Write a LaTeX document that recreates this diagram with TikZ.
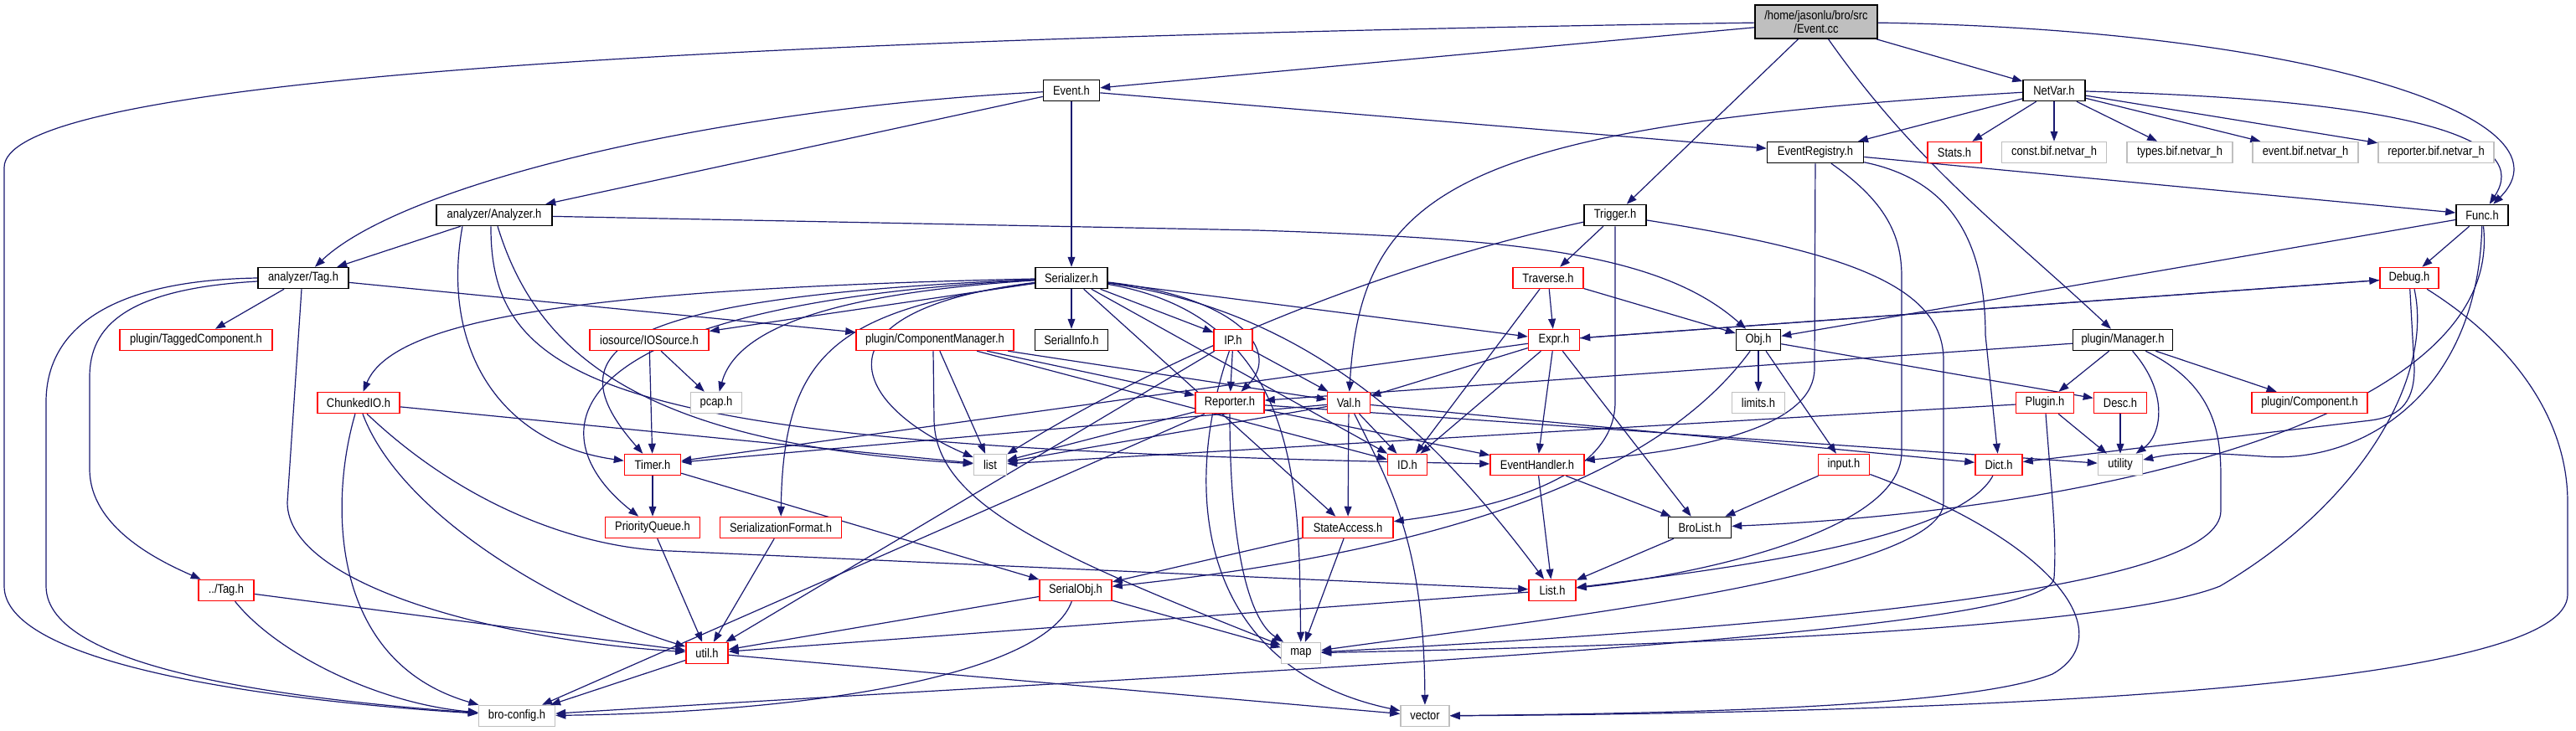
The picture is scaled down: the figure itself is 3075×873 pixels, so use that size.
\documentclass[tikz,border=0pt]{standalone}
\usepackage{fontspec}
\usetikzlibrary{arrows.meta}
\newfontfamily\lbl{Liberation Sans}[FakeStretch=0.86]
\definecolor{edgec}{HTML}{191970}
\definecolor{grayb}{HTML}{BFBFBF}
\definecolor{redb}{HTML}{FF0000}
\pgfdeclarelayer{background}
\pgfsetlayers{background,main}
\begin{document}
\begin{tikzpicture}[x=0.5pt,y=-0.5pt,
  box/.style={rectangle, draw, line width=0.75pt, minimum height=12.5pt, inner sep=0pt, fill=white,
    font=\lbl\fontsize{7.5}{9}\selectfont},
  nb/.style={box, draw=black},
  nr/.style={box, draw=redb},
  ng/.style={box, draw=grayb},
  edg/.style={draw=edgec, line width=0.6pt, -{Triangle[length=6pt,width=4.4pt]}, fill=none}]
\path[use as bounding box] (0,0) rectangle (3075,873);
% ---------- nodes ----------
\node[nb, fill=grayb, minimum width=73pt, minimum height=20pt, align=center,
  font=\lbl\fontsize{7.5}{7.8}\selectfont] (cc) at (2168,26) {/home/jasonlu/bro/src\\/Event.cc};
\node[nb, minimum width=33.5pt] (eventh) at (1279,108) {Event.h};
\node[nb, minimum width=37pt] (netvar) at (2452,108) {NetVar.h};
\node[nb, minimum width=57.5pt] (er) at (2167,182) {EventRegistry.h};
\node[nr, minimum width=32pt] (stats) at (2333,182) {Stats.h};
\node[ng, minimum width=62.5pt] (constbif) at (2452,182) {const.bif.netvar\_h};
\node[ng, minimum width=63pt] (typesbif) at (2602,182) {types.bif.netvar\_h};
\node[ng, minimum width=63pt] (eventbif) at (2752,182) {event.bif.netvar\_h};
\node[ng, minimum width=69pt] (repbif) at (2908,182) {reporter.bif.netvar\_h};
\node[nb, minimum width=69pt] (analyzer) at (590,257) {analyzer/Analyzer.h};
\node[nb, minimum width=37pt] (trigger) at (1928,257) {Trigger.h};
\node[nb, minimum width=31pt] (func) at (2963,257) {Func.h};
\node[nb, minimum width=54pt] (tag) at (362,332) {analyzer/Tag.h};
\node[nb, minimum width=43pt] (ser) at (1279,332) {Serializer.h};
\node[nr, minimum width=42pt] (traverse) at (1848,332) {Traverse.h};
\node[nr, minimum width=35pt] (debug) at (2876,332) {Debug.h};
\node[nr, minimum width=91pt] (tagcomp) at (234,406) {plugin/TaggedComponent.h};
\node[nr, minimum width=71pt] (iosrc) at (775,406) {iosource/IOSource.h};
\node[nr, minimum width=94pt] (compmgr) at (1116,406) {plugin/ComponentManager.h};
\node[nb, minimum width=43.5pt] (serinfo) at (1279,406) {SerialInfo.h};
\node[nr, minimum width=23pt] (ip) at (1472,406) {IP.h};
\node[nr, minimum width=30.5pt] (expr) at (1855,406) {Expr.h};
\node[nb, minimum width=26.5pt] (obj) at (2099,406) {Obj.h};
\node[nb, minimum width=59.5pt] (pmgr) at (2534,406) {plugin/Manager.h};
\node[nr, minimum width=49pt] (cio) at (428,481) {ChunkedIO.h};
\node[ng, minimum width=30.5pt] (pcap) at (855,481) {pcap.h};
\node[nr, minimum width=41pt] (rep) at (1468,481) {Reporter.h};
\node[nr, minimum width=25.5pt] (val) at (1610,481) {Val.h};
\node[ng, minimum width=31.5pt] (limits) at (2099,481) {limits.h};
\node[nr, minimum width=34.5pt] (plugin) at (2441,481) {Plugin.h};
\node[nr, minimum width=31.5pt] (desc) at (2531,481) {Desc.h};
\node[nr, minimum width=69pt] (pcomp) at (2757,481) {plugin/Component.h};
\node[nr, minimum width=33.5pt] (timer) at (779,555) {Timer.h};
\node[ng, minimum width=19.5pt] (list) at (1182,555) {list};
\node[nr, minimum width=23.5pt] (id) at (1680,555) {ID.h};
\node[nr, minimum width=56pt] (eh) at (1835,555) {EventHandler.h};
\node[nr, minimum width=30.5pt] (input) at (2201,555) {input.h};
\node[nr, minimum width=28pt] (dict) at (2386,555) {Dict.h};
\node[ng, minimum width=26.5pt] (utility) at (2531,555) {utility};
\node[nr, minimum width=56.5pt] (pq) at (779,630) {PriorityQueue.h};
\node[nr, minimum width=72.5pt] (sf) at (932,630) {SerializationFormat.h};
\node[nr, minimum width=54pt] (sa) at (1609,630) {StateAccess.h};
\node[nb, minimum width=37.5pt] (brolist) at (2029,630) {BroList.h};
\node[nr, minimum width=33pt] (subtag) at (270,705) {../Tag.h};
\node[nr, minimum width=43pt] (sobj) at (1284,705) {SerialObj.h};
\node[nr, minimum width=28pt] (listh) at (1853,705) {List.h};
\node[nr, minimum width=25pt] (util) at (844,780) {util.h};
\node[ng, minimum width=23.5pt] (map) at (1553,780) {map};
\node[ng, minimum width=45.5pt] (broconfig) at (617,855) {bro-config.h};
\node[ng, minimum width=29pt] (vector) at (1701,855) {vector};
% ---------- edges ----------
\begin{pgfonlayer}{background}
% Event.cc
\draw[edg] (cc) -- (eventh);
\draw[edg] (cc) -- (netvar);
\draw[edg] (cc) -- (trigger);
\draw[edg] (cc) .. controls (2290,200) and (2400,280) .. (pmgr);
\draw[edg] (cc) .. controls (2750,35) and (3080,140) .. (func);
\draw[edg] (cc) .. controls (600,50) and (5,110) .. (5,200) -- (5,700) .. controls (5,790) and (300,835) .. (broconfig);
% Event.h
\draw[edg] (eventh) -- (ser);
\draw[edg] (eventh) .. controls (850,130) and (480,220) .. (tag);
\draw[edg] (eventh) -- (analyzer);
\draw[edg] (eventh) -- (er);
% NetVar.h
\foreach \t in {stats,constbif,typesbif,eventbif,repbif} \draw[edg] (netvar) -- (\t);
\draw[edg] (netvar) .. controls (2900,120) and (3020,170) .. (func);
\draw[edg] (netvar) -- (er);
\draw[edg] (netvar) .. controls (1750,150) and (1625,220) .. (val);
% EventRegistry.h
\draw[edg] (er) -- (func);
\draw[edg] (er) -- (2166,440) .. controls (2166,505) and (2050,535) .. (eh);
\draw[edg] (er) .. controls (2330,215) and (2370,290) .. (2370,400) -- (dict);
\draw[edg] (er) .. controls (2250,240) and (2270,280) .. (2270,330) -- (2270,540) .. controls (2270,640) and (2000,690) .. (listh);
% analyzer/Analyzer.h
\draw[edg] (analyzer) -- (tag);
\draw[edg] (analyzer) -- (1500,275) .. controls (1800,285) and (1980,300) .. (obj);
\draw[edg] ([xshift=-19pt]analyzer.south) .. controls (525,420) and (600,530) .. (timer);
\draw[edg] ([xshift=2pt]analyzer.south) .. controls (640,420) and (760,530) .. (list);
\draw[edg] ([xshift=-2pt]analyzer.south) .. controls (585,470) and (750,535) .. (eh);
% analyzer/Tag.h
\draw[edg] (tag) -- (tagcomp);
\draw[edg] (tag) -- (compmgr);
\draw[edg] ([yshift=-2pt]tag.west) .. controls (150,345) and (107,390) .. (107,450) -- (107,560) .. controls (107,630) and (190,670) .. (subtag);
\draw[edg] (tag.west) .. controls (120,335) and (55,400) .. (55,480) -- (55,700) .. controls (55,800) and (350,835) .. (broconfig);
\draw[edg] ([xshift=-1pt]tag.south) -- (343,600) .. controls (343,700) and (600,765) .. (util);
% ../Tag.h
\draw[edg] (subtag) .. controls (330,780) and (450,840) .. (broconfig);
\draw[edg] (subtag) -- (util);
% ChunkedIO.h
\draw[edg] ([xshift=-2pt]cio.south) .. controls (393,600) and (393,790) .. (broconfig);
\draw[edg] (cio) .. controls (480,620) and (680,730) .. (util);
\draw[edg] ([xshift=5pt]cio.south) .. controls (560,610) and (700,655) .. (800,658) -- (listh);
\draw[edg] (cio) -- (list);
% Serializer.h
\draw[edg] (ser) -- (serinfo);
\draw[edg] (ser) -- (ip);
\draw[edg] (ser) -- (iosrc);
\draw[edg] (ser) .. controls (1000,350) and (880,390) .. (pcap);
\draw[edg] (ser) .. controls (700,345) and (470,380) .. (cio);
\draw[edg] (ser) .. controls (720,355) and (660,420) .. (timer);
\draw[edg] (ser) .. controls (650,365) and (640,520) .. (pq);
\draw[edg] (ser) .. controls (1000,370) and (935,420) .. (sf);
\draw[edg] (ser) .. controls (970,370) and (1010,480) .. (list);
\draw[edg] (ser) -- (expr);
\draw[edg] (ser) .. controls (1480,355) and (1530,420) .. (rep);
\draw[edg] (ser) .. controls (1560,380) and (1550,600) .. (map);
\draw[edg] (ser) -- (id);
\draw[edg] (ser) .. controls (1550,370) and (1700,500) .. (listh);
\draw[edg] (ser) -- (sa);
% iosource/IOSource.h
\draw[edg] (iosrc) -- (pcap);
\draw[edg] (iosrc) -- (timer);
% plugin/ComponentManager.h
\draw[edg] (compmgr) -- (list);
\draw[edg] ([xshift=-1pt]compmgr.south) -- (1115,500) .. controls (1115,600) and (1250,660) .. (map);
\draw[edg] (compmgr) -- (rep);
\draw[edg] (compmgr) -- (val);
\draw[edg] (compmgr) -- (id);
% IP.h
\draw[edg] (ip) -- (rep);
\draw[edg] (ip) -- (val);
\draw[edg] (ip) -- (util);
\draw[edg] (ip) .. controls (1405,600) and (1440,800) .. (vector);
% Reporter.h
\draw[edg] (rep) -- (list);
\draw[edg] (rep) .. controls (1468,650) and (1490,740) .. (map);
\draw[edg] (rep) -- (broconfig);
\draw[edg] (rep) -- (eh);
\draw[edg] (rep) -- (utility);
% Val.h
\draw[edg] (val) .. controls (1660,580) and (1700,650) .. (vector);
\draw[edg] (val) -- (id);
\draw[edg] (val) -- (sa);
\draw[edg] (val) -- (list);
\draw[edg] (val) -- (timer);
\draw[edg] (val) -- (dict);
% Expr.h
\draw[edg] (expr) -- (debug);
\draw[edg] (debug) -- (expr);
\draw[edg] (expr) -- (val);
\draw[edg] (expr) -- (id);
\draw[edg] (expr) -- (eh);
\draw[edg] (expr) -- (brolist);
\draw[edg] (expr) -- (timer);
% Traverse.h
\draw[edg] (traverse) -- (expr);
\draw[edg] (traverse) -- (obj);
\draw[edg] (traverse) -- (id);
% Trigger.h
\draw[edg] (trigger) -- (traverse);
\draw[edg] (trigger) .. controls (1660,315) and (1400,420) .. (list);
\draw[edg] (trigger) -- (1928,480) .. controls (1928,580) and (1760,610) .. (sa);
\draw[edg] (trigger) .. controls (2200,300) and (2320,340) .. (2320,430) -- (2320,600) .. controls (2320,690) and (1800,745) .. (map);
% Func.h
\draw[edg] (func) -- (debug);
\draw[edg] (func) -- (obj);
\draw[edg] (func) .. controls (2958,470) and (2820,555) .. (2700,545) .. controls (2630,540) and (2600,540) .. (utility);
\draw[edg] (func) .. controls (2990,500) and (2500,610) .. (brolist);
% Debug.h
\draw[edg] (debug) -- (2882,440) .. controls (2882,485) and (2860,498) .. (2830,502) -- (dict);
\draw[edg] ([xshift=3pt]debug.south) .. controls (2905,450) and (2820,600) .. (2650,700) .. controls (2500,760) and (1800,775) .. (map);
\draw[edg] (debug) .. controls (3000,410) and (3065,500) .. (3065,600) -- (3065,710) .. controls (3065,810) and (2500,850) .. (vector);
% Obj.h
\draw[edg] (obj) -- (limits);
\draw[edg] (obj) -- (input);
\draw[edg] (obj) -- (desc);
\draw[edg] (obj) .. controls (2000,540) and (1800,650) .. (sobj);
% plugin/Manager.h
\draw[edg] (pmgr) -- (plugin);
\draw[edg] (pmgr) -- (pcomp);
\draw[edg] (pmgr) .. controls (2590,470) and (2580,520) .. (utility);
\draw[edg] (pmgr) .. controls (2645,460) and (2651,520) .. (2651,570) -- (2651,610) .. controls (2651,700) and (2200,745) .. (map);
\draw[edg] (pmgr) -- (rep);
% Plugin.h
\draw[edg] (plugin) -- (utility);
\draw[edg] (plugin) -- (list);
\draw[edg] (plugin) .. controls (2450,600) and (2455,640) .. (2452,690) .. controls (2450,760) and (1500,800) .. (broconfig);
% Desc.h, Dict.h, input.h
\draw[edg] (desc) -- (utility);
\draw[edg] (dict) .. controls (2340,640) and (2100,675) .. (listh);
\draw[edg] (input) -- (brolist);
\draw[edg] (input) .. controls (2460,650) and (2530,760) .. (2450,805) .. controls (2350,845) and (2000,852) .. (vector);
% StateAccess.h, EventHandler.h, BroList.h, List.h
\draw[edg] (sa) -- (sobj);
\draw[edg] (sa) -- (map);
\draw[edg] (eh) -- (brolist);
\draw[edg] (eh) -- (listh);
\draw[edg] (brolist) -- (listh);
\draw[edg] (listh) -- (util);
% SerialObj.h
\draw[edg] (sobj) -- (util);
\draw[edg] (sobj) .. controls (1250,800) and (1000,850) .. (broconfig);
\draw[edg] (sobj) -- (map);
% Timer.h, PriorityQueue.h, SerializationFormat.h, util.h
\draw[edg] (timer) -- (pq);
\draw[edg] (timer) -- (sobj);
\draw[edg] (pq) -- (util);
\draw[edg] (sf) -- (util);
\draw[edg] (util) -- (broconfig);
\draw[edg] (util) -- (vector);
\end{pgfonlayer}
\end{tikzpicture}
\end{document}
